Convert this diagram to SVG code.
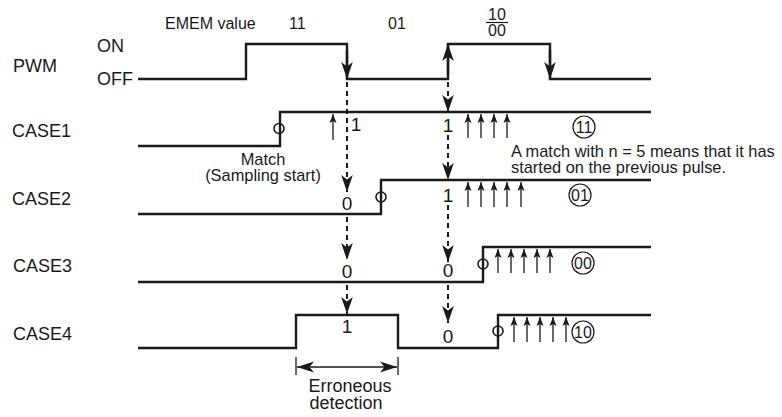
<svg xmlns="http://www.w3.org/2000/svg" width="782" height="417" viewBox="0 0 782 417">
<style>
text{font-family:"Liberation Sans",Arial,sans-serif;fill:#1a1a1a}
.lbl{font-size:18px}
.top{font-size:16px}
.dig{font-size:19px;text-anchor:middle}
.note{font-size:16.4px}
.cir{font-size:16px;text-anchor:middle}
.wave{fill:none;stroke:#1a1a1a;stroke-width:2.4;stroke-linejoin:miter}
.edge{stroke:#1a1a1a;stroke-width:2.4;marker-end:url(#big)}
.dash{stroke:#1a1a1a;stroke-width:2;stroke-dasharray:5 4;fill:none;marker-end:url(#big)}
.up{stroke:#1a1a1a;stroke-width:1.3;marker-end:url(#small)}
.mk{fill:none;stroke:#1a1a1a;stroke-width:1.6}
.ring{fill:none;stroke:#1a1a1a;stroke-width:1.2}
</style>
<defs>
<marker id="big" markerUnits="userSpaceOnUse" viewBox="-18 -7 20 14" markerWidth="20" markerHeight="14" refX="0" refY="0" orient="auto" overflow="visible">
<path d="M0,0 L-17,-5.8 L-12.5,0 L-17,5.8 Z" fill="#1a1a1a" stroke="none"/>
</marker>
<marker id="bigs" markerUnits="userSpaceOnUse" viewBox="-18 -7 20 14" markerWidth="20" markerHeight="14" refX="0" refY="0" orient="auto-start-reverse" overflow="visible">
<path d="M0,0 L-17,-5.5 L-12.5,0 L-17,5.5 Z" fill="#1a1a1a" stroke="none"/>
</marker>
<marker id="small" markerUnits="userSpaceOnUse" viewBox="-10 -4 11 8" markerWidth="11" markerHeight="8" refX="0" refY="0" orient="auto" overflow="visible">
<path d="M0,0 L-9,-3.5 L-7,0 L-9,3.5 Z" fill="#1a1a1a" stroke="none"/>
</marker>
</defs>
<rect width="782" height="417" fill="#fff"/>

<g id="header">
<text class="top" x="165" y="29">EMEM value</text>
<text class="top" x="289" y="29">11</text>
<text class="top" x="388" y="29">01</text>
<text class="top" x="497" y="19.5" text-anchor="middle">10</text>
<line x1="486" y1="22.5" x2="508" y2="22.5" stroke="#1a1a1a" stroke-width="1.2"/>
<text class="top" x="497" y="36" text-anchor="middle">00</text>
</g>

<g id="pwm">
<text class="lbl" x="13" y="72">PWM</text>
<text class="lbl" x="97" y="52">ON</text>
<text class="lbl" x="97" y="85">OFF</text>
<polyline class="wave" points="138,79 246,79 246,44 347,44 347,79 448,79 448,44 550,44 550,79 651,79"/>
<line class="edge" x1="347" y1="50" x2="347" y2="79"/>
<line class="edge" x1="448" y1="75" x2="448" y2="44"/>
<line class="edge" x1="550" y1="50" x2="550" y2="79"/>
</g>

<g id="case1">
<text class="lbl" x="12" y="137">CASE1</text>
<polyline class="wave" points="138,146 280,146 280,112 651,112"/>
<circle class="mk" cx="279" cy="128.5" r="5"/>
<line class="up" x1="333" y1="140" x2="333" y2="114"/>
<line class="up" x1="468" y1="138" x2="468" y2="114"/>
<line class="up" x1="481" y1="138" x2="481" y2="114"/>
<line class="up" x1="494" y1="138" x2="494" y2="114"/>
<line class="up" x1="507" y1="138" x2="507" y2="114"/>
<text class="dig" x="356" y="131">1</text>
<text class="dig" x="448" y="132">1</text>
<circle class="ring" cx="584" cy="127" r="11"/>
<text class="cir" x="584" y="132.8">11</text>
<text class="note" x="263" y="164.5" text-anchor="middle">Match</text>
<text class="note" x="263" y="180.5" text-anchor="middle">(Sampling start)</text>
<text class="note" x="511" y="157">A match with n = 5 means that it has</text>
<text class="note" x="511" y="172.5">started on the previous pulse.</text>
</g>

<g id="case2">
<text class="lbl" x="12" y="205">CASE2</text>
<polyline class="wave" points="138,214 381,214 381,180 651,180"/>
<circle class="mk" cx="381" cy="197" r="5"/>
<line class="up" x1="468" y1="207" x2="468" y2="182"/>
<line class="up" x1="481" y1="207" x2="481" y2="182"/>
<line class="up" x1="494" y1="207" x2="494" y2="182"/>
<line class="up" x1="507" y1="207" x2="507" y2="182"/>
<line class="up" x1="521" y1="207" x2="521" y2="182"/>
<text class="dig" x="347" y="210">0</text>
<text class="dig" x="448" y="202">1</text>
<circle class="ring" cx="580" cy="195" r="11"/>
<text class="cir" x="580" y="200.8">01</text>
</g>

<g id="case3">
<text class="lbl" x="13" y="272">CASE3</text>
<polyline class="wave" points="138,282 483,282 483,247 651,247"/>
<circle class="mk" cx="483" cy="264" r="5"/>
<line class="up" x1="498" y1="273" x2="498" y2="249"/>
<line class="up" x1="511" y1="273" x2="511" y2="249"/>
<line class="up" x1="524" y1="273" x2="524" y2="249"/>
<line class="up" x1="537" y1="273" x2="537" y2="249"/>
<line class="up" x1="550" y1="273" x2="550" y2="249"/>
<text class="dig" x="347" y="278">0</text>
<text class="dig" x="448" y="277">0</text>
<circle class="ring" cx="583" cy="263" r="11"/>
<text class="cir" x="583" y="268.8">00</text>
</g>

<g id="case4">
<text class="lbl" x="13" y="340">CASE4</text>
<polyline class="wave" points="138,348 296,348 296,315 398,315 398,348 498,348 498,315 651,315"/>
<circle class="mk" cx="498" cy="331" r="5"/>
<line class="up" x1="514" y1="342" x2="514" y2="317"/>
<line class="up" x1="527" y1="342" x2="527" y2="317"/>
<line class="up" x1="540" y1="342" x2="540" y2="317"/>
<line class="up" x1="553" y1="342" x2="553" y2="317"/>
<line class="up" x1="566" y1="342" x2="566" y2="317"/>
<text class="dig" x="347" y="333">1</text>
<text class="dig" x="448" y="343">0</text>
<circle class="ring" cx="583" cy="332" r="11"/>
<text class="cir" x="583" y="337.8">10</text>
</g>

<g id="erroneous">
<line x1="296" y1="357" x2="296" y2="375" stroke="#1a1a1a" stroke-width="1.3"/>
<line x1="398" y1="357" x2="398" y2="375" stroke="#1a1a1a" stroke-width="1.3"/>
<line x1="297" y1="367" x2="397" y2="367" stroke="#1a1a1a" stroke-width="1.6" marker-start="url(#bigs)" marker-end="url(#bigs)"/>
<text class="lbl" x="350" y="392" text-anchor="middle">Erroneous</text>
<text class="lbl" x="346" y="409" text-anchor="middle">detection</text>
</g>

<g id="connectors">
<line class="dash" x1="347" y1="82" x2="347" y2="192"/>
<line class="dash" x1="347" y1="217" x2="347" y2="260"/>
<line class="dash" x1="347" y1="285" x2="347" y2="314"/>
<line class="dash" x1="448" y1="82" x2="448" y2="112"/>
<line class="dash" x1="448" y1="135" x2="448" y2="180"/>
<line class="dash" x1="448" y1="205" x2="448" y2="262"/>
<line class="dash" x1="448" y1="285" x2="448" y2="323"/>
</g>
</svg>
